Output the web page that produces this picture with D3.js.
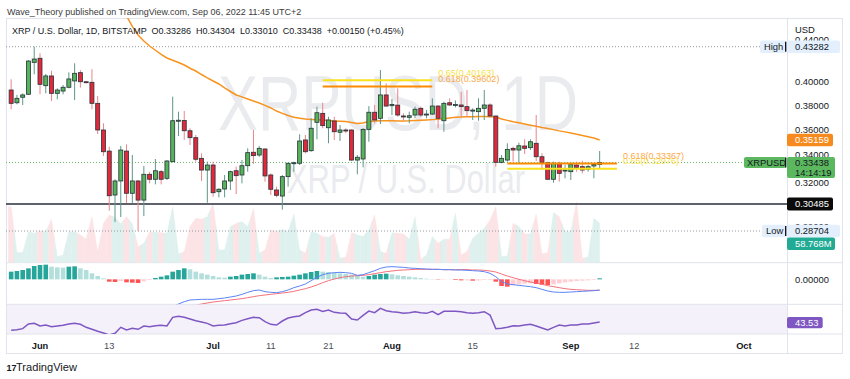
<!DOCTYPE html>
<html><head><meta charset="utf-8">
<script src="https://cdn.jsdelivr.net/npm/d3@7"></script>
<style>body{margin:0;background:#fff;}svg text{font-family:"Liberation Sans",Arial,sans-serif;}</style>
</head><body>
<svg id="c" width="850" height="379"></svg>
<script>
const dates=["2022-05-27","2022-05-28","2022-05-29","2022-05-30","2022-05-31",
"2022-06-01","2022-06-02","2022-06-03","2022-06-04","2022-06-05","2022-06-06","2022-06-07","2022-06-08","2022-06-09","2022-06-10",
"2022-06-11","2022-06-12","2022-06-13","2022-06-14","2022-06-15","2022-06-16","2022-06-17","2022-06-18","2022-06-19","2022-06-20",
"2022-06-21","2022-06-22","2022-06-23","2022-06-24","2022-06-25","2022-06-26","2022-06-27","2022-06-28","2022-06-29","2022-06-30",
"2022-07-01","2022-07-02","2022-07-03","2022-07-04","2022-07-05","2022-07-06","2022-07-07","2022-07-08","2022-07-09","2022-07-10",
"2022-07-11","2022-07-12","2022-07-13","2022-07-14","2022-07-15","2022-07-16","2022-07-17","2022-07-18","2022-07-19","2022-07-20",
"2022-07-21","2022-07-22","2022-07-23","2022-07-24","2022-07-25","2022-07-26","2022-07-27","2022-07-28","2022-07-29","2022-07-30","2022-07-31",
"2022-08-01","2022-08-02","2022-08-03","2022-08-04","2022-08-05","2022-08-06","2022-08-07","2022-08-08","2022-08-09","2022-08-10",
"2022-08-11","2022-08-12","2022-08-13","2022-08-14","2022-08-15","2022-08-16","2022-08-17","2022-08-18","2022-08-19","2022-08-20",
"2022-08-21","2022-08-22","2022-08-23","2022-08-24","2022-08-25","2022-08-26","2022-08-27","2022-08-28","2022-08-29","2022-08-30","2022-08-31",
"2022-09-01","2022-09-02","2022-09-03","2022-09-04","2022-09-05","2022-09-06"];
const open=[.3930,.3820,.3867,.3893,.4180,.4218,.3968,.4055,.3901,.3921,.3954,.4010,.4085,.4003,.3998,.3815,.3595,.3430,.3110,.3209,
.3430,.3122,.3209,.3075,.3257,.3221,.3276,.3228,.3350,.3670,.3672,.3589,.3534,.3375,.3288,.3325,.3133,.3152,.3209,.3283,
.3252,.3320,.3421,.3400,.3446,.3252,.3145,.3103,.3240,.3338,.3338,.3516,.3433,.3657,.3731,.3613,.3668,.3577,.3595,.3595,
.3362,.3370,.3600,.3740,.3690,.3887,.3795,.3800,.3709,.3698,.3717,.3773,.3717,.3725,.3792,.3670,.3820,.3801,.3801,.3787,
.3753,.3745,.3773,.3801,.3709,.3345,.3362,.3451,.3438,.3469,.3456,.3490,.3387,.3342,.3221,.3338,.3281,.3276,.3325,.3313,
.3293,.3318,.33286];
const high=[.4025,.3887,.3901,.4202,.43282,.4265,.4073,.4103,.3945,.3974,.4088,.4171,.4109,.4010,.4116,.3878,.3649,.3464,.3221,.3469,
.3482,.3400,.3216,.3318,.3276,.3370,.3288,.3362,.3872,.3745,.3750,.3609,.3555,.3413,.3350,.3350,.3157,.3252,.3283,.3313,
.3362,.3451,.3595,.3469,.3451,.3264,.3168,.3252,.3342,.3350,.3561,.3555,.3690,.3787,.3820,.3703,.3703,.3635,.3609,.3600,
.3400,.3609,.3792,.3801,.4109,.3989,.3852,.3945,.3731,.3745,.3787,.3787,.3759,.3858,.3801,.3829,.3858,.3840,.3915,.3930,
.3773,.3858,.3930,.3815,.3709,.3400,.3490,.3464,.3495,.3521,.3521,.3717,.3413,.3350,.3350,.3350,.3325,.3338,.3350,.3357,
.3325,.3338,.34304];
const low=[.3765,.3807,.3801,.3887,.4070,.3893,.3901,.3835,.3849,.3893,.3945,.3843,.3951,.3990,.3765,.3563,.3393,.3003,.2928,.2961,
.3055,.3053,.28704,.2967,.3192,.3185,.3185,.3216,.3345,.3547,.3516,.3477,.3350,.3209,.3057,.3098,.3094,.3094,.3145,.3117,
.3192,.3276,.3333,.3387,.3204,.3110,.3094,.3010,.3168,.3276,.3325,.3413,.3425,.3521,.3609,.3490,.3516,.3508,.3569,.3355,
.3257,.3308,.3502,.3649,.3643,.3787,.3717,.3703,.3676,.3649,.3690,.3703,.3690,.3717,.3609,.3581,.3792,.3780,.3703,.3703,
.3676,.3670,.3676,.3698,.3313,.3338,.3350,.3350,.3342,.3408,.3438,.3355,.3288,.3216,.3197,.3204,.3228,.3216,.3276,.3264,
.3276,.3228,.33010];
const close=[.3815,.3858,.3887,.4192,.4211,.3980,.4055,.3901,.3930,.3954,.4028,.4079,.4003,.3998,.3815,.3595,.3425,.3105,.3209,.3438,
.3122,.3209,.3075,.3257,.3221,.3283,.3221,.3355,.3670,.3674,.3589,.3534,.3368,.3288,.3325,.3126,.3150,.3209,.3276,.3247,
.3320,.3418,.3395,.3451,.3245,.3150,.3108,.3240,.3338,.3342,.3508,.3425,.3609,.3736,.3630,.3676,.3581,.3595,.3590,.3362,
.3383,.3600,.3740,.3676,.3887,.3792,.3805,.3717,.3704,.3711,.3765,.3717,.3725,.3792,.3690,.3815,.3801,.3805,.3787,.3753,
.3758,.3773,.3801,.3709,.3345,.3375,.3443,.3438,.3471,.3451,.3502,.3387,.3345,.3221,.3338,.3264,.3288,.3331,.3308,.3288,
.3313,.3329,.33438];
const volumeM=[83.9,14.6,14.6,46.2,43.7,47.7,46.2,64.8,8.5,11.1,46.2,46.2,41.2,34.7,68.8,16.1,58.8,71.3,67.8,57.8,
68.8,57.8,23.6,28.6,46.2,45.2,44.7,43.7,83.9,12.6,16.1,53.8,66.3,64.8,68.8,88.9,18.6,18.6,53.8,58.8,
61.3,53.8,81.4,13.6,18.6,48.7,46.2,49.7,46.2,72.8,18.6,13.6,46.2,43.7,38.7,37.7,43.7,6.0,7.5,44.7,
41.2,38.7,48.7,71.3,16.1,13.6,44.7,43.7,42.7,34.7,68.8,4.5,11.1,38.7,28.6,34.7,34.7,73.8,11.1,16.1,
36.2,43.7,51.2,63.8,83.9,8.5,9.5,58.8,53.8,42.7,42.7,72.8,12.6,14.6,74.9,68.8,46.2,46.2,91.4,6.0,
8.5,66.3,58.768];
const ma50=[null,null,null,null,null,null,null,null,null,null,null,null,null,null,null,null,null,null,null,
.4725,.4635,.4528,.4443,.4384,.4335,.4294,.4254,.4221,.4200,.4179,.4155,.4125,.4100,.4068,.4038,.4010,.3983,.3948,.3917,
.3887,.3870,.3852,.3835,.3818,.3798,.3776,.3750,.3731,.3713,.3699,.3691,.3684,.3681,.3679,.3676,.3672,.3668,.3665,.3663,
.3656,.3647,.3651,.3664,.3668,.3669,.3669,.3669,.3668,.3668,.3669,.3672,.3674,.3676,.3679,.3682,.3686,.3692,.3698,.3700,
.3702,.3703,.3704,.3704,.3703,.3700,.3684,.3673,.3662,.3653,.3643,.3634,.3625,.3615,.3607,.3598,.3588,.3580,.3571,.3561,
.3551,.3541,.3532,.35159];
const macdHist=[.0023,.0025,.0028,.0033,.0040,.0043,.0044,.0038,.0036,.0035,.0038,.0039,.0033,.0028,.0018,.0010,.0003,-.0007,-.0008,-.0005,
-.0009,-.0010,-.0011,-.0006,-.0002,.0004,.0008,.0012,.0023,.0028,.0033,.0030,.0023,.0018,.0014,.0010,.0006,.0005,.0008,.0010,
.0014,.0016,.0018,.0014,.0008,.0004,.0006,.0007,.0008,.0011,.0014,.0018,.0022,.0025,.0023,.0022,.0020,.0018,.0016,.0014,
.0010,.0008,.0010,.0014,.0016,.0017,.0015,.0012,.0010,.0008,.0006,.0004,.0002,.0001,-.0001,-.0001,-.00005,-.0002,-.0003,-.0003,
-.0004,-.00035,-.0002,-.0002,-.0007,-.0020,-.0022,-.0018,-.0015,-.0013,-.0012,-.0014,-.0016,-.0017,-.0015,-.0012,-.0009,-.0007,-.0005,-.0004,
-.0003,-.0002,.0003];
const macdLine=[null,null,null,null,null,null,null,null,null,null,null,null,null,null,null,null,null,null,null,null,
null,null,null,null,null,null,null,null,
-.0082,-.0074,-.0067,-.0062,-.0061,-.0060,-.0060,-.0060,-.0058,-.0056,-.0053,-.0050,-.0045,-.0039,-.0034,-.0032,-.0037,-.0039,-.0040,-.0037,
-.0032,-.0025,-.0020,-.0014,-.0004,.0006,.0014,.0018,.0020,.0021,.0020,.0018,.0012,.0014,.0020,.0026,.0033,.0037,.0038,.0037,
.0036,.0034,.0033,.0032,.0031,.0030,.0030,.0029,.0029,.0028,.0028,.0027,.0026,.0025,.0023,.0018,.0008,-.0007,-.0014,-.0016,
-.0018,-.0020,-.0022,-.0025,-.0030,-.0035,-.0038,-.0039,-.0039,-.0038,-.0037,-.0036,-.0035,-.0034,-.0032];
const signalLine=[null,null,null,null,null,null,null,null,null,null,null,null,null,null,null,null,null,null,null,null,
null,null,null,null,null,null,null,null,null,null,null,null,
-.0078,-.0074,-.0071,-.0068,-.0066,-.0064,-.0062,-.0060,-.0058,-.0055,-.0052,-.0049,-.0047,-.0045,-.0043,-.0041,-.0039,-.0036,-.0032,-.0028,
-.0023,-.0017,-.0010,-.0004,.0001,.0005,.0008,.0010,.0011,.0012,.0014,.0017,.0020,.0023,.0025,.0027,.0028,.0029,.0030,.0030,
.0030,.0030,.0030,.0029,.0029,.0029,.0029,.0029,.0028,.0028,.0027,.0025,.0022,.0016,.0010,.0005,.0000,-.0004,-.0008,-.0011,
-.0015,-.0019,-.0022,-.0025,-.0028,-.0030,-.0031,-.0032,-.0033,-.0033,-.0033];
const rsi14=[33.5,34.3,35.5,41.1,41.9,38.7,39.9,37.9,38.7,39.5,41.1,41.9,40.7,37.1,34.7,32.3,30.3,27.9,29.9,37.1,
33.9,35.9,34.7,38.7,37.9,39.1,39.5,38.7,49.1,50.3,49.1,47.1,45.1,43.5,41.9,38.7,39.5,39.9,41.5,42.7,
45.5,47.5,49.1,48.7,43.9,40.7,39.9,44.7,48.3,49.9,50.7,54.7,57.9,58.7,56.3,57.9,55.1,54.3,53.9,47.1,
45.9,51.5,56.7,54.7,59.9,57.1,55.9,55.1,53.9,54.7,55.9,54.7,53.9,56.3,52.3,56.3,56.3,56.3,55.9,54.7,
53.9,54.7,55.9,51.9,35.5,35.9,37.1,39.1,38.7,39.9,40.7,38.7,36.3,33.9,37.1,39.9,38.7,39.9,39.9,41.1,
41.1,42.3,43.53];
const priceTicks=[0.44,0.40,0.38,0.36,0.34,0.32,0.29,0.28];
const timeTicks=[["2022-06-01","Jun",true],["2022-06-13","13",false],["2022-07-01","Jul",true],["2022-07-11","11",false],
["2022-07-21","21",false],["2022-08-01","Aug",true],["2022-08-15","15",false],["2022-09-01","Sep",true],["2022-09-12","12",false],["2022-10-01","Oct",true]];
const fibTop={from:"2022-07-20",to:"2022-08-08",levels:[[0.65,0.40163,"#f9e11e"],[0.618,0.39602,"#fb8c00"]]};
const fibBot={from:"2022-08-21",to:"2022-09-09",levels:[[0.65,0.32976,"#f9e11e"],[0.618,0.33367,"#fb8c00"]]};
const supportLevel=0.30485, highVal=0.43282, lowVal=0.28704;

// ---------- layout ----------
const L=6,R=787,FR=842,mainTop=18,mainBot=262.7,macdBot=304.3,rsiBot=334,axBot=353;
const svg=d3.select("#c");
const defs=svg.append("defs");
function clip(id,y0,y1){defs.append("clipPath").attr("id",id).append("rect").attr("x",L).attr("y",y0).attr("width",R-L).attr("height",y1-y0);}
clip("cMain",mainTop,mainBot);clip("cMacd",mainBot,macdBot);clip("cRsi",macdBot,rsiBot);

const parse=d3.utcParse("%Y-%m-%d");
const x=d3.scaleUtc().domain([parse("2022-06-01"),parse("2022-10-01")]).range([40,743.9]);
const y=d3.scaleLog().domain([lowVal,highVal]).range([231,46.7]);
const yv=d3.scaleLinear().domain([0,90.4]).range([262.3,202.3]);
const ym=d3.scaleLinear().domain([-0.0075,0.005]).range([304.33,262.67]);
const yr=d3.scaleLinear().domain([30,70]).range([333.24,299.96]);
const data=dates.map((d,i)=>({date:parse(d),o:open[i],h:high[i],l:low[i],c:close[i],v:volumeM[i]}));
const half=(x(parse("2022-06-02"))-x(parse("2022-06-01")))/2;
const last=data[data.length-1];

// header
svg.append("text").attr("x",7).attr("y",14.5).attr("font-size",9).attr("fill","#3b3b3b")
 .text("Wave_Theory published on TradingView.com, Sep 06, 2022 11:45 UTC+2");

// frame & panes
svg.append("rect").attr("x",L).attr("y",macdBot).attr("width",R-L).attr("height",rsiBot-macdBot).attr("fill","#f5f1fb");
const fr=svg.append("g").attr("stroke","#e0e3eb").attr("fill","none");
fr.append("rect").attr("x",L+.5).attr("y",mainTop+.5).attr("width",FR-L).attr("height",axBot-mainTop);
[mainBot,macdBot,rsiBot].forEach(v=>fr.append("line").attr("x1",L).attr("x2",FR).attr("y1",v).attr("y2",v));
fr.append("line").attr("x1",R+.5).attr("x2",R+.5).attr("y1",mainTop).attr("y2",axBot);

// ---------- main pane ----------
const gm=svg.append("g").attr("clip-path","url(#cMain)");
gm.append("text").attr("x",218).attr("y",130).attr("font-size",78).attr("fill","#eaebef")
 .attr("textLength",360).attr("lengthAdjust","spacingAndGlyphs").text("XRPUSD, 1D");
gm.append("text").attr("x",287).attr("y",193).attr("font-size",41).attr("fill","#eaebef")
 .attr("textLength",238).attr("lengthAdjust","spacingAndGlyphs").text("XRP / U.S. Dollar");
data.forEach((d,i)=>{
  const cx=x(d.date),vy=yv(d.v);
  const pv=i>0?yv(data[i-1].v):vy, nv=i<data.length-1?yv(data[i+1].v):vy;
  const isLast=i===data.length-1, xr=isLast?cx:cx+half;
  const pts=[[cx-half,(pv+vy)/2],[cx,vy],[xr,isLast?vy:(vy+nv)/2],[xr,yv(0)],[cx-half,yv(0)]];
  const col=d.c>=d.o?"#def1ee":"#fce4e6";
  gm.append("path").attr("d",d3.line()(pts)+"Z").attr("fill",col).attr("stroke",col).attr("stroke-width",0.4);
});
gm.append("line").attr("x1",L).attr("x2",760).attr("y1",y(highVal)).attr("y2",y(highVal)).attr("stroke","#9598a1").attr("stroke-dasharray","1,2");
gm.append("line").attr("x1",L).attr("x2",762).attr("y1",y(lowVal)).attr("y2",y(lowVal)).attr("stroke","#9598a1").attr("stroke-dasharray","1,2");
gm.append("line").attr("x1",L).attr("x2",744).attr("y1",y(last.c)).attr("y2",y(last.c)).attr("stroke","#66bb6a").attr("stroke-dasharray","1,2");
gm.append("line").attr("x1",L).attr("x2",R).attr("y1",y(supportLevel)).attr("y2",y(supportLevel)).attr("stroke","#2a2e39").attr("stroke-width",1.3);
gm.append("path").datum(data.map((d,i)=>[d.date,ma50[i]]))
 .attr("d",d3.line().defined(d=>d[1]!=null).x(d=>x(d[0])).y(d=>y(d[1])))
 .attr("fill","none").attr("stroke","#f7931e").attr("stroke-width",1.5);
data.forEach(d=>{
  const cx=x(d.date),up=d.c>=d.o;
  gm.append("line").attr("x1",cx).attr("x2",cx).attr("y1",y(d.h)).attr("y2",y(d.l))
    .attr("stroke",up?"#5e9688":"#e9858c").attr("stroke-width",1);
  const t=y(Math.max(d.o,d.c)),b=y(Math.min(d.o,d.c));
  gm.append("rect").attr("x",cx-2).attr("y",t).attr("width",4).attr("height",Math.max(b-t,1))
    .attr("fill",up?"#55b35a":"#e3283b").attr("stroke","#263238").attr("stroke-width",0.8);
});
[fibTop,fibBot].forEach(f=>{
  const x0=x(parse(f.from)),x1=x(parse(f.to));
  f.levels.forEach(([lv,p,col])=>{
    gm.append("line").attr("x1",x0).attr("x2",x1).attr("y1",y(p)).attr("y2",y(p)).attr("stroke",col).attr("stroke-width",2);
  });
});
[fibTop,fibBot].forEach(f=>{
  const x1=x(parse(f.to));
  f.levels.forEach(([lv,p,col])=>{
    svg.append("text").attr("x",x1+6).attr("y",y(p)-4.5).attr("font-size",9).attr("fill",col==="#fb8c00"?"#fba94a":"#f8e04a")
      .text(lv+"("+p.toFixed(5)+")");
  });
});

// legend
svg.append("text").attr("x",12).attr("y",33.5).attr("font-size",9).attr("fill","#131722").style("white-space","pre")
 .text("XRP / U.S. Dollar, 1D, BITSTAMP  O"+last.o.toFixed(5)+"  H"+last.h.toFixed(5)+"  L"+last.l.toFixed(5)+"  C"+last.c.toFixed(5)+"  +0.00150 (+0.45%)");

// ---------- MACD ----------
const gmac=svg.append("g").attr("clip-path","url(#cMacd)");
data.forEach((d,i)=>{
  const v=macdHist[i],pv=i>0?macdHist[i-1]:v;
  const col=v>=0?(v>=pv?"#26a69a":"#b2dfdb"):(v<pv?"#ff5252":"#ffcdd2");
  const y0=ym(0),y1=ym(v);
  gmac.append("rect").attr("x",x(d.date)-2.3).attr("width",4.6).attr("y",Math.min(y0,y1)).attr("height",Math.abs(y1-y0)).attr("fill",col);
});
const lineM=d3.line().defined(d=>d[1]!=null).x(d=>x(d[0])).y(d=>ym(d[1]));
gmac.append("path").datum(data.map((d,i)=>[d.date,signalLine[i]])).attr("d",lineM).attr("fill","none").attr("stroke","#f4717b").attr("stroke-width",1);
gmac.append("path").datum(data.map((d,i)=>[d.date,macdLine[i]])).attr("d",lineM).attr("fill","none").attr("stroke","#5b84f5").attr("stroke-width",1);

// ---------- RSI ----------
const grsi=svg.append("g").attr("clip-path","url(#cRsi)");
grsi.append("path").datum(data.map((d,i)=>[d.date,rsi14[i]]))
 .attr("d",d3.line().x(d=>x(d[0])).y(d=>yr(d[1]))).attr("fill","none").attr("stroke","#7e57c2").attr("stroke-width",1.5);

// ---------- time axis ----------
timeTicks.forEach(([d,t,b])=>{
  svg.append("text").attr("x",x(parse(d))).attr("y",348.5).attr("text-anchor","middle").attr("font-size",9.3)
   .attr("font-weight",b?"bold":"normal").attr("fill",b?"#131722":"#4a4e59").text(t);
});

// ---------- price axis ----------
svg.append("text").attr("x",795).attr("y",32.5).attr("font-size",9.4).attr("fill","#131722").text("USD");
priceTicks.forEach(p=>{
  svg.append("text").attr("x",795).attr("y",y(p)+3.4).attr("font-size",9.4).attr("fill","#131722").text(p.toFixed(5));
});
svg.append("text").attr("x",795).attr("y",ym(0)+3.4).attr("font-size",9.4).attr("fill","#131722").text((0).toFixed(5));
function box(x0,x1,cy,h,fill,txt,col,tx){
  svg.append("rect").attr("x",x0).attr("y",cy-h/2).attr("width",x1-x0).attr("height",h).attr("rx",2).attr("fill",fill);
  if(txt!=null) svg.append("text").attr("x",tx!=null?tx:x0+8).attr("y",cy+3.4).attr("font-size",9.4).attr("fill",col).text(txt);
}
function sideLabel(x0,cy,txt){
  box(x0,786,cy,12.6,"#e3effd",txt,"#131722",x0+4);
  svg.append("rect").attr("x",785).attr("y",cy-5).attr("width",1.4).attr("height",10).attr("fill","#131722");
}
sideLabel(760,y(highVal),"High");
box(787,840,y(highVal),12.6,"#e3effd",highVal.toFixed(5),"#131722");
box(787,833,y(ma50[ma50.length-1]),12.6,"#f68a1e",ma50[ma50.length-1].toFixed(5),"#ffffff");
box(744,786,y(last.c),11,"#5cb85f","XRPUSD","#131722",747);
svg.append("rect").attr("x",785).attr("y",y(last.c)-5).attr("width",1.4).attr("height",10).attr("fill","#131722");
svg.append("rect").attr("x",787).attr("y",y(last.c)-5.6).attr("width",48).attr("height",21).attr("rx",2).attr("fill","#5cb85f");
svg.append("text").attr("x",795).attr("y",y(last.c)+3.4).attr("font-size",9.4).attr("fill","#131722").text(last.c.toFixed(5));
svg.append("text").attr("x",795).attr("y",y(last.c)+13.6).attr("font-size",9.4).attr("fill","#131722").text("14:14:19");
box(787,833,y(supportLevel),13,"#0b0b0b",supportLevel.toFixed(5),"#ffffff");
sideLabel(762,y(lowVal),"Low");
box(787,840,y(lowVal),12.6,"#e3effd",lowVal.toFixed(5),"#131722");
box(787,835,243.8,12.6,"#22ab94",volumeM[volumeM.length-1].toFixed(3)+"M","#ffffff");
box(787,822.7,322.7,11.3,"#7e57c2",rsi14[rsi14.length-1].toFixed(2),"#ffffff");

// ---------- footer ----------
svg.append("text").attr("x",6.5).attr("y",370.5).attr("font-size",9).attr("font-weight",900).attr("fill","#131722").text("17");
svg.append("text").attr("x",16).attr("y",370.5).attr("font-size",10.5).attr("fill","#131722")
 .attr("textLength",61).attr("lengthAdjust","spacingAndGlyphs").text("TradingView");
</script>
</body></html>
